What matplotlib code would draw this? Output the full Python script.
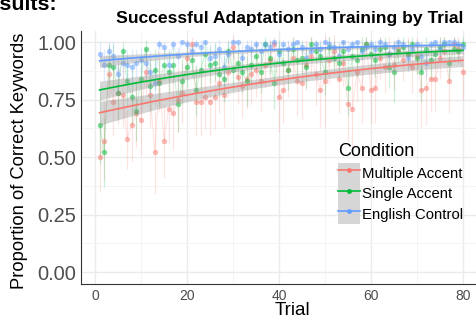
import numpy as np
import matplotlib.pyplot as plt
from matplotlib.lines import Line2D
from matplotlib.patches import Patch
from matplotlib.legend_handler import HandlerTuple

plt.rcParams['font.family'] = ['Liberation Sans', 'DejaVu Sans']

# Data: proportion of correct keywords per trial, with error bar half-widths
trials = np.arange(1, 81)

multiple_accent = [0.50, 0.57, 0.86, 0.74, 0.78, 0.77, 0.58, 0.64, 0.69, 0.66,
                   0.87, 0.77, 0.52, 0.83, 0.57, 0.71, 0.69, 0.75, 0.78, 0.93,
                   0.99, 0.74, 0.74, 0.76, 0.74, 0.76, 0.82, 0.77, 0.87, 0.98,
                   0.85, 0.81, 0.84, 0.86, 0.88, 0.83, 0.90, 0.92, 0.99, 0.76,
                   0.79, 0.88, 0.93, 0.83, 0.82, 0.90, 0.94, 0.86, 0.79, 0.83,
                   0.92, 0.96, 0.84, 0.91, 0.73, 0.71, 0.87, 0.80, 0.99, 0.79,
                   0.80, 0.93, 0.89, 0.95, 0.90, 0.97, 0.92, 0.95, 0.89, 0.94,
                   0.79, 0.80, 0.84, 0.84, 0.93, 0.96, 0.83, 0.99, 0.97, 0.87]
single_accent = [0.64, 0.52, 0.90, 0.89, 0.78, 0.96, 0.83, 0.76, 0.70, 0.84,
                 0.97, 0.81, 0.88, 0.82, 0.90, 0.87, 0.90, 0.73, 0.83, 0.89,
                 0.92, 0.79, 0.88, 0.95, 0.90, 0.91, 0.86, 0.84, 0.96, 0.88,
                 0.91, 0.87, 0.83, 0.90, 0.94, 0.87, 0.99, 0.93, 0.82, 0.96,
                 0.91, 0.88, 0.97, 0.92, 0.93, 0.89, 0.99, 0.96, 0.94, 0.87,
                 0.98, 0.93, 0.91, 0.96, 0.80, 0.94, 0.92, 0.97, 0.99, 0.95,
                 0.92, 0.97, 0.98, 0.89, 0.87, 0.96, 0.98, 0.95, 0.99, 0.93,
                 0.87, 0.97, 0.92, 0.95, 0.98, 0.99, 0.91, 0.97, 0.96, 0.99]
english_control = [0.95, 0.90, 0.96, 0.94, 0.86, 0.91, 0.90, 0.89, 0.91, 0.92,
                   0.91, 0.87, 0.82, 0.99, 0.98, 0.90, 0.99, 0.94, 1.00, 0.99,
                   0.96, 0.99, 0.98, 1.00, 0.93, 0.94, 0.97, 0.89, 0.95, 1.00,
                   1.00, 0.93, 0.98, 0.97, 0.99, 0.96, 0.99, 0.98, 1.00, 0.95,
                   0.99, 0.97, 0.99, 1.00, 0.98, 0.93, 0.96, 0.99, 0.97, 1.00,
                   0.99, 0.98, 0.94, 1.00, 0.97, 0.99, 1.00, 0.96, 0.98, 0.99,
                   0.97, 1.00, 0.99, 0.95, 0.98, 1.00, 0.99, 0.93, 0.97, 0.99,
                   0.94, 0.91, 0.99, 1.00, 0.97, 1.00, 1.00, 1.00, 0.99, 0.98]

err_multiple = [0.15, 0.17, 0.12, 0.15, 0.14, 0.14, 0.13, 0.16, 0.15, 0.15,
                0.11, 0.14, 0.18, 0.13, 0.16, 0.15, 0.16, 0.14, 0.13, 0.08,
                0.03, 0.15, 0.15, 0.14, 0.15, 0.14, 0.13, 0.14, 0.11, 0.05,
                0.12, 0.14, 0.13, 0.13, 0.12, 0.13, 0.10, 0.09, 0.03, 0.15,
                0.14, 0.12, 0.09, 0.15, 0.16, 0.11, 0.08, 0.14, 0.16, 0.20,
                0.10, 0.07, 0.15, 0.10, 0.16, 0.16, 0.13, 0.15, 0.03, 0.14,
                0.15, 0.09, 0.11, 0.07, 0.11, 0.05, 0.09, 0.07, 0.11, 0.08,
                0.16, 0.16, 0.14, 0.14, 0.09, 0.06, 0.14, 0.03, 0.05, 0.12]
err_single = [0.17, 0.15, 0.09, 0.10, 0.12, 0.04, 0.11, 0.12, 0.13, 0.10,
              0.04, 0.11, 0.09, 0.10, 0.07, 0.09, 0.08, 0.12, 0.10, 0.09,
              0.07, 0.11, 0.09, 0.06, 0.08, 0.08, 0.10, 0.10, 0.05, 0.09,
              0.08, 0.09, 0.11, 0.08, 0.06, 0.09, 0.03, 0.07, 0.11, 0.05,
              0.08, 0.09, 0.05, 0.08, 0.07, 0.09, 0.03, 0.05, 0.06, 0.10,
              0.04, 0.07, 0.08, 0.05, 0.12, 0.06, 0.07, 0.05, 0.03, 0.06,
              0.07, 0.05, 0.04, 0.09, 0.13, 0.05, 0.04, 0.06, 0.03, 0.07,
              0.13, 0.05, 0.08, 0.06, 0.04, 0.03, 0.08, 0.05, 0.05, 0.03]
err_english = [0.05, 0.07, 0.04, 0.06, 0.09, 0.07, 0.07, 0.08, 0.06, 0.06,
               0.07, 0.09, 0.10, 0.02, 0.02, 0.07, 0.02, 0.04, 0.01, 0.02,
               0.04, 0.02, 0.03, 0.01, 0.06, 0.06, 0.04, 0.08, 0.05, 0.01,
               0.01, 0.06, 0.03, 0.04, 0.02, 0.04, 0.02, 0.03, 0.01, 0.05,
               0.02, 0.04, 0.02, 0.01, 0.03, 0.06, 0.04, 0.02, 0.04, 0.01,
               0.02, 0.03, 0.06, 0.01, 0.04, 0.02, 0.01, 0.04, 0.03, 0.02,
               0.04, 0.01, 0.02, 0.05, 0.03, 0.01, 0.02, 0.06, 0.04, 0.02,
               0.06, 0.07, 0.02, 0.01, 0.04, 0.01, 0.01, 0.01, 0.02, 0.03]

conditions = ['Multiple Accent', 'Single Accent', 'English Control']
series = [multiple_accent, single_accent, english_control]
errors = [err_multiple, err_single, err_english]
colors = ['#F8766D', '#00BA38', '#619CFF']


def logistic_smooth(t, p, grid):
    """Quasi-binomial GLM fit (like geom_smooth(method='glm')) with 95% band."""
    t = np.asarray(t, float)
    p = np.asarray(p, float)
    X = np.column_stack([np.ones_like(t), t])
    beta = np.zeros(2)
    for _ in range(50):
        mu = 1 / (1 + np.exp(-(X @ beta)))
        w = mu * (1 - mu)
        z = X @ beta + (p - mu) / w
        beta = np.linalg.solve(X.T @ (w[:, None] * X), X.T @ (w * z))
    mu = 1 / (1 + np.exp(-(X @ beta)))
    w = mu * (1 - mu)
    disp = np.sum((p - mu) ** 2 / w) / (len(p) - 2)
    cov = np.linalg.inv(X.T @ (w[:, None] * X)) * disp
    G = np.column_stack([np.ones_like(grid), grid])
    eta = G @ beta
    se = np.sqrt(np.einsum('ij,jk,ik->i', G, cov, G))
    inv = lambda e: 1 / (1 + np.exp(-e))
    return inv(eta), inv(eta - 1.96 * se), inv(eta + 1.96 * se)


fig = plt.figure(figsize=(4.77, 3.18), dpi=100)
ax = fig.add_axes([81.4 / 477, 1 - 283.7 / 318, 399.6 / 477, 253.2 / 318])

for vals, err, col in zip(series, errors, colors):
    vals = np.asarray(vals)
    err = np.asarray(err)
    ax.vlines(trials, vals - err, vals + err, color=col, alpha=0.2, lw=0.9, zorder=2)
    ax.plot(trials, vals, color=col, alpha=0.2, lw=0.7, zorder=2)
    ax.plot(trials, vals, 'o', color=col, alpha=0.5, ms=3.9, mew=0, zorder=3)

grid_t = np.linspace(trials.min(), trials.max(), 120)
for vals, col in zip(series, colors):
    fit, lo, hi = logistic_smooth(trials, vals, grid_t)
    ax.fill_between(grid_t, lo, hi, color='#999999', alpha=0.4, lw=0, zorder=4)
    ax.plot(grid_t, fit, color=col, lw=1.2, zorder=5)

ax.set_xlim(-2.95, 83.95)
ax.set_ylim(-0.05, 1.05)
ax.set_xticks([0, 20, 40, 60, 80])
ax.set_xticks([10, 30, 50, 70], minor=True)
ax.set_yticks([0, 0.25, 0.5, 0.75, 1.0])
ax.set_yticklabels(['0.00', '0.25', '0.50', '0.75', '1.00'])
ax.set_yticks([0.125, 0.375, 0.625, 0.875], minor=True)
ax.grid(True, which='major', color='#ebebeb', lw=1.0, zorder=0)
ax.grid(True, which='minor', color='#f3f3f3', lw=0.6, zorder=0)
ax.set_axisbelow(True)
ax.tick_params(which='both', length=0)
ax.tick_params(axis='y', labelsize=14.4, labelcolor='#4d4d4d', pad=3.6)
ax.tick_params(axis='x', labelsize=10, labelcolor='#4d4d4d', pad=4)
for side in ['top', 'right']:
    ax.spines[side].set_visible(False)
for side in ['left', 'bottom']:
    ax.spines[side].set_color('#333333')
    ax.spines[side].set_linewidth(0.8)

# Legend with grey key backgrounds like ggplot
handles = [(Patch(facecolor='#d6d6d6', edgecolor='none'),
            Line2D([], [], color=c, lw=1.2, marker='o', ms=3.5, mew=0))
           for c in colors]
leg = fig.legend(handles, conditions, handler_map={tuple: HandlerTuple(ndivide=1, pad=0)},
                 loc='upper left', bbox_to_anchor=(338 / 477, 1 - 143 / 318),
                 frameon=False, fontsize=10.7, title='Condition', title_fontsize=13,
                 handlelength=1.45, handleheight=1.75, labelspacing=0.0, handletextpad=0.15,
                 borderpad=0, borderaxespad=0)
leg._legend_box.align = 'left'
leg._legend_box.sep = 2

fig.text(290 / 477, 1 - 23 / 318, 'Successful Adaptation in Training by Trial',
         ha='center', va='baseline', fontsize=12.6, fontweight='bold')
fig.text(57 / 477, 1 - 10 / 318, 'Results:', ha='right', va='baseline',
         fontsize=15.4, fontweight='bold')
fig.text(20 / 477, 157 / 318, 'Proportion of Correct Keywords', rotation=90,
         ha='center', va='center', fontsize=13.2)
fig.text(292 / 477, 1 - 315 / 318, 'Trial', ha='center', va='baseline', fontsize=13.5)

fig.savefig('out.png', dpi=100)
